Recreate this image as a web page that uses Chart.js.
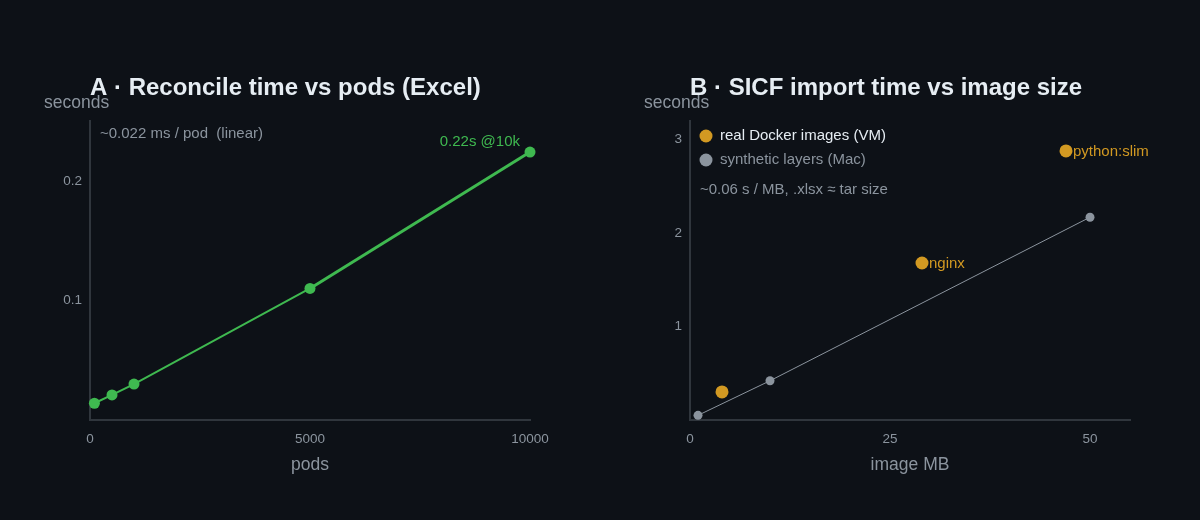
<!DOCTYPE html>
<html><head><meta charset="utf-8">
<script src="https://cdn.jsdelivr.net/npm/chart.js@4"></script>
<style>
html,body{margin:0;padding:0;background:#0d1117;}
#wrap{width:1200px;height:520px;display:flex;}
.p{width:600px;height:520px;position:relative;}
canvas{display:block;}
</style></head>
<body><div id="wrap"><div class="p"><canvas id="a" width="600" height="520"></canvas></div><div class="p"><canvas id="b" width="600" height="520"></canvas></div></div>
<script>
// Panel A data
const podsX = [100, 500, 1000, 5000, 10000];
const reconcileSec = [0.014, 0.021, 0.030, 0.110, 0.224];
const aXTicks = [0, 5000, 10000];
const aYTicks = [0.1, 0.2];
// Panel B data
const realMB = [4, 29, 47];
const realSec = [0.30, 1.68, 2.88];
const realLabels = ['', 'nginx', 'python:slim'];
const synthMB = [1, 10, 50];
const synthSec = [0.05, 0.42, 2.17];
const bXTicks = [0, 25, 50];
const bYTicks = [1, 2, 3];

const BG = '#0d1117', FG = '#e6edf3', GREY = '#8b949e', AXIS = '#30363d';
const GREEN = '#3fb950', ORANGE = '#d29922', SGREY = '#8b949e';
const FONT = '"Liberation Sans", Arial, sans-serif';
Chart.defaults.font.family = FONT;
Chart.defaults.color = GREY;

function xy(xs, ys){ return xs.map((x,i)=>({x, y: ys[i]})); }

function baseOptions(xmax, ymax, xt, yt){
  return {
    responsive:false, animation:false, devicePixelRatio:1,
    layout:{padding:{top:121,right:70,left:0,bottom:0}},
    plugins:{legend:{display:false}, tooltip:{enabled:false}, title:{display:false}},
    scales:{
      x:{type:'linear', min:0, max:xmax, grid:{display:false},
         border:{display:true,color:AXIS,width:2},
         afterFit:s=>{s.height=100;},
         afterBuildTicks:s=>{s.ticks = xt.map(v=>({value:v}));},
         ticks:{color:GREY,font:{size:13.5},padding:3,maxRotation:0,callback:v=>String(v)}},
      y:{type:'linear', min:0, max:ymax, grid:{display:false},
         border:{display:true,color:AXIS,width:2},
         afterFit:s=>{s.width=90;},
         afterBuildTicks:s=>{s.ticks = yt.map(v=>({value:v}));},
         ticks:{color:GREY,font:{size:13.5},padding:0,callback:v=>String(v)}}
    }
  };
}

function textPlugin(id, drawFn){
  return {id, afterDatasetsDraw(chart){ const c=chart.ctx; c.save(); drawFn(chart,c); c.restore(); }};
}
const bgPlugin = {id:'bg', beforeDraw(chart){const c=chart.ctx; c.save(); c.fillStyle=BG; c.fillRect(0,0,chart.width,chart.height); c.restore();}};

function drawCommon(c, title, xTitle, cx){
  c.textBaseline='middle';
  c.fillStyle=FG; c.font='bold 24px '+FONT; c.textAlign='left';
  c.fillText(title, 90, 88);
  c.fillStyle=GREY; c.font='17.5px '+FONT;
  c.fillText('seconds', 44, 103);
  c.textAlign='center';
  c.fillText(xTitle, cx, 465);
}

new Chart(document.getElementById('a'), {
  type:'line',
  data:{datasets:[{data:xy(podsX, reconcileSec), borderColor:GREEN, backgroundColor:GREEN,
    borderWidth:2, segment:{borderWidth:ctx => ctx.p0DataIndex >= 3 ? 3 : 2},
    pointRadius:5.5, pointBackgroundColor:GREEN, pointBorderWidth:0, tension:0, clip:false}]},
  options: baseOptions(10000, 0.25, aXTicks, aYTicks),
  plugins:[bgPlugin, textPlugin('txtA',(chart,c)=>{
    drawCommon(c, 'A · Reconcile time vs pods (Excel)', 'pods', 310);
    c.textAlign='left'; c.textBaseline='middle';
    c.fillStyle=GREY; c.font='15px '+FONT;
    c.fillText('~0.022 ms / pod  (linear)', 100, 134);
    const sx=chart.scales.x, sy=chart.scales.y;
    const last=podsX.length-1;
    c.fillStyle=GREEN; c.textAlign='right';
    c.fillText((reconcileSec[last]).toFixed(2)+'s @10k', sx.getPixelForValue(podsX[last])-10, sy.getPixelForValue(reconcileSec[last])-10);
  })]
});

new Chart(document.getElementById('b'), {
  type:'scatter',
  data:{datasets:[
    {data:xy(synthMB, synthSec), showLine:true, borderColor:SGREY, borderWidth:1, pointRadius:4.5,
     pointBackgroundColor:SGREY, pointBorderWidth:0, clip:false},
    {data:xy(realMB, realSec), showLine:false, pointRadius:6.5, pointBackgroundColor:ORANGE, borderColor:ORANGE,
     pointBorderWidth:0, clip:false}
  ]},
  options: baseOptions(55, 3.2, bXTicks, bYTicks),
  plugins:[bgPlugin, textPlugin('txtB',(chart,c)=>{
    drawCommon(c, 'B · SICF import time vs image size', 'image MB', 310);
    c.textBaseline='middle'; c.textAlign='left';
    c.font='15px '+FONT;
    c.fillStyle=ORANGE; c.beginPath(); c.arc(106,136,6.5,0,Math.PI*2); c.fill();
    c.fillStyle=FG; c.fillText('real Docker images (VM)', 120, 136);
    c.fillStyle=SGREY; c.beginPath(); c.arc(106,160,6.5,0,Math.PI*2); c.fill();
    c.fillStyle=GREY; c.fillText('synthetic layers (Mac)', 120, 160);
    c.fillText('~0.06 s / MB, .xlsx ≈ tar size', 100, 190);
    const sx=chart.scales.x, sy=chart.scales.y;
    c.fillStyle=ORANGE;
    realLabels.forEach((l,i)=>{ if(!l) return;
      c.fillText(l, sx.getPixelForValue(realMB[i])+7, sy.getPixelForValue(realSec[i])+1);
    });
  })]
});
</script></body></html>
